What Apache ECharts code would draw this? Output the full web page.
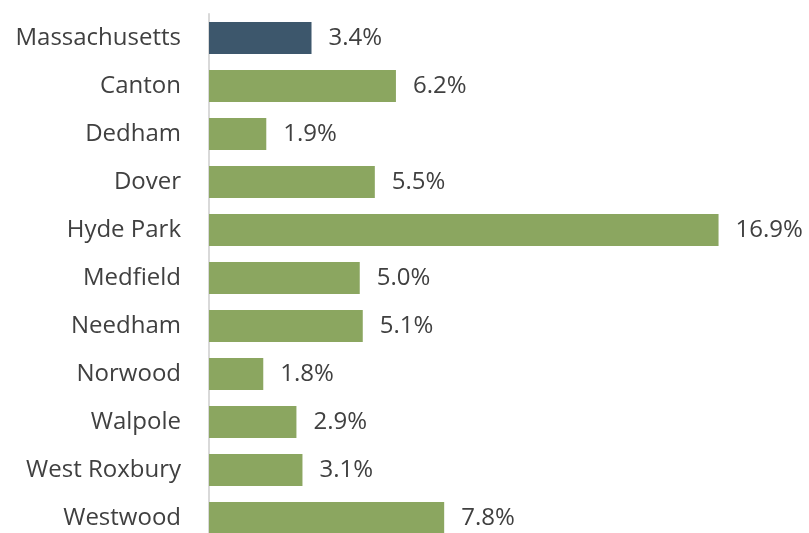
<!DOCTYPE html>
<html>
<head>
<meta charset="utf-8">
<style>
  html, body { margin: 0; padding: 0; background: #ffffff; overflow: hidden; }
  #chart { width: 809px; height: 542px; }
</style>
<script src="https://cdn.jsdelivr.net/npm/echarts@6/dist/echarts.min.js"></script>
</head>
<body>
<div id="chart"></div>
<script>
// Share of residents by community (%), state figure first
const categories = ['Massachusetts', 'Canton', 'Dedham', 'Dover', 'Hyde Park', 'Medfield',
  'Needham', 'Norwood', 'Walpole', 'West Roxbury', 'Westwood'];
const values = [3.4, 6.2, 1.9, 5.5, 16.9, 5.0, 5.1, 1.8, 2.9, 3.1, 7.8];

const STATE_COLOR = '#3D576C';
const TOWN_COLOR = '#8BA660';
const TEXT_COLOR = '#404040';
const FONT = '"Open Sans", sans-serif';

const chart = echarts.init(document.getElementById('chart'), null, { renderer: 'canvas' });

chart.setOption({
  animation: false,
  backgroundColor: '#ffffff',
  // the last row runs slightly past the visible bottom edge
  grid: { left: 209, right: 0, top: 14, bottom: 0, containLabel: false },
  xAxis: {
    type: 'value',
    min: 0,
    max: 19.9,
    show: false
  },
  yAxis: {
    type: 'category',
    inverse: true,
    data: categories,
    axisLine: { show: true, lineStyle: { color: '#D9D9D9', width: 2 } },
    axisTick: { show: false },
    splitLine: { show: false },
    axisLabel: {
      color: TEXT_COLOR,
      fontFamily: FONT,
      fontSize: 24,
      margin: 28
    }
  },
  series: [{
    type: 'bar',
    barWidth: 32,
    data: values.map((v, i) => ({
      value: v,
      itemStyle: { color: i === 0 ? STATE_COLOR : TOWN_COLOR }
    })),
    label: {
      show: true,
      position: 'right',
      distance: 17,
      color: TEXT_COLOR,
      fontFamily: FONT,
      fontSize: 24,
      formatter: p => p.value.toFixed(1) + '%'
    }
  }]
});
</script>
</body>
</html>
